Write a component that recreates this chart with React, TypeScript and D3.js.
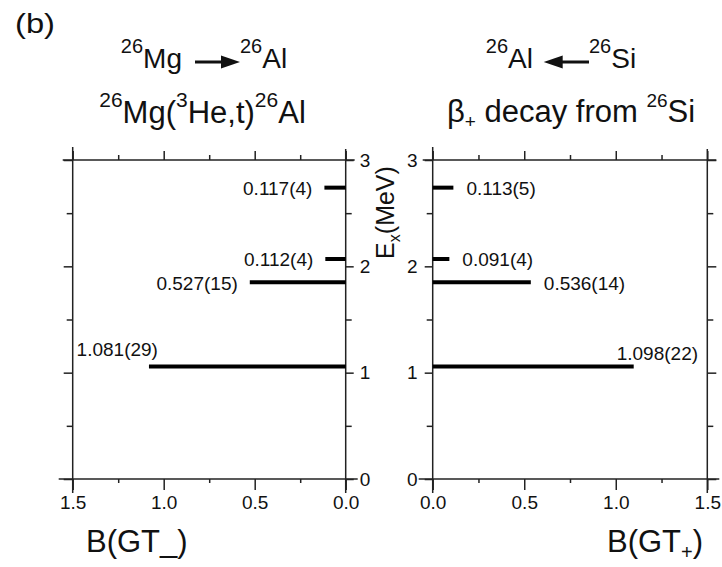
import React, { useEffect, useRef } from 'react';
import * as d3 from 'd3';

// excitation energies of the 1+ states in 26Al (MeV)
const levels = [1.058, 1.851, 2.069, 2.74];

// 26Mg(3He,t)26Al
const bgtMinus = [1.081, 0.527, 0.112, 0.117];
const bgtMinusLabels = ['1.081(29)', '0.527(15)', '0.112(4)', '0.117(4)'];

// beta+ decay of 26Si
const bgtPlus = [1.098, 0.536, 0.091, 0.113];
const bgtPlusLabels = ['1.098(22)', '0.536(14)', '0.091(4)', '0.113(5)'];

const bTicks = [0, 0.5, 1.0, 1.5];
const bMinor = [0.25, 0.75, 1.25];
const eTicks = [0, 1, 2, 3];
const eMinor = [0.5, 1.5, 2.5];

const FONT = '"Liberation Sans", Arial, Helvetica, sans-serif';
const INK = '#222';

type Part = [string, 'n' | 'sup' | 'sub'];

function rich(g: any, x: number, y: number, size: number, anchor: string, parts: Part[], small: number, up: number, down: number) {
  const t = g.append('text')
    .attr('x', x).attr('y', y)
    .attr('text-anchor', anchor)
    .attr('font-family', FONT)
    .attr('font-size', size)
    .attr('fill', '#111')
    .style('white-space', 'pre');
  let cur = 0;
  parts.forEach(([s, k]) => {
    const target = k === 'sup' ? -up : k === 'sub' ? down : 0;
    t.append('tspan')
      .attr('dy', target - cur)
      .attr('font-size', k === 'n' ? size : small)
      .text(s);
    cur = target;
  });
  return t;
}

function arrow(g: any, xFrom: number, xTo: number, y: number) {
  const dir = Math.sign(xTo - xFrom);
  const head = 19;
  g.append('line')
    .attr('x1', xFrom).attr('x2', xTo - dir * head * 0.6)
    .attr('y1', y).attr('y2', y)
    .attr('stroke', '#111').attr('stroke-width', 3);
  g.append('path')
    .attr('d', `M${xTo},${y}L${xTo - dir * head},${y - 6.5}L${xTo - dir * head},${y + 6.5}Z`)
    .attr('fill', '#111');
}

function styleAxis(a: any) {
  a.select('.domain').remove();
  a.attr('font-family', FONT).attr('font-size', 19);
  a.selectAll('line').attr('stroke', INK).attr('stroke-width', 1.5);
  a.selectAll('text').attr('fill', '#111');
}

export default function App() {
  const ref = useRef<SVGSVGElement>(null);

  useEffect(() => {
    const svg = d3.select(ref.current);
    svg.selectAll('*').remove();

    const y = d3.scaleLinear().domain([0, 3]).range([479, 160]);
    const xL = d3.scaleLinear().domain([1.5, 0]).range([72.7, 345.7]);
    const xR = d3.scaleLinear().domain([0, 1.5]).range([432.7, 707.3]);

    const panel = (x: any, values: number[], labels: string[], side: 'left' | 'right') => {
      const g = svg.append('g');
      const [x0, x1] = x.range();
      const yTop = y(3);
      const yBot = y(0);

      // frame lines, a bit longer than the plot box
      const frame = [
        [x0 - 10, yTop, x1 + 9, yTop],
        [x0 - 14, yBot, x1 + 12, yBot],
        [x0, yTop - 13, x0, yBot + 14],
        [x1, yTop - 11, x1, yBot + 14],
      ];
      g.selectAll('line.frame').data(frame).join('line')
        .attr('class', 'frame')
        .attr('x1', (d: number[]) => d[0]).attr('y1', (d: number[]) => d[1])
        .attr('x2', (d: number[]) => d[2]).attr('y2', (d: number[]) => d[3])
        .attr('stroke', INK).attr('stroke-width', 1.5);

      // x axes
      g.append('g').attr('transform', `translate(0,${yBot})`)
        .call(d3.axisBottom(x).tickValues(bTicks).tickSize(11).tickPadding(6).tickFormat(d3.format('.1f')))
        .call(styleAxis);
      g.append('g').attr('transform', `translate(0,${yBot})`)
        .call(d3.axisBottom(x).tickValues(bMinor).tickSize(4).tickFormat(() => ''))
        .call(styleAxis);
      g.append('g').attr('transform', `translate(0,${yTop})`)
        .call(d3.axisTop(x).tickValues(bTicks).tickSize(9).tickFormat(() => ''))
        .call(styleAxis);
      g.append('g').attr('transform', `translate(0,${yTop})`)
        .call(d3.axisTop(x).tickValues(bMinor).tickSize(5).tickFormat(() => ''))
        .call(styleAxis);

      // y axes: labels on the inner side
      const inner = side === 'left' ? x1 : x0;
      const outer = side === 'left' ? x0 : x1;
      const innerAxis = side === 'left' ? d3.axisRight : d3.axisLeft;
      const outerAxis = side === 'left' ? d3.axisLeft : d3.axisRight;
      g.append('g').attr('transform', `translate(${inner},0)`)
        .call(innerAxis(y).tickValues(eTicks).tickSize(8).tickPadding(side === 'left' ? 6 : 7).tickFormat(d3.format('d')))
        .call(styleAxis);
      g.append('g').attr('transform', `translate(${inner},0)`)
        .call(innerAxis(y).tickValues(eMinor).tickSize(6).tickFormat(() => ''))
        .call(styleAxis);
      g.append('g').attr('transform', `translate(${outer},0)`)
        .call(outerAxis(y).tickValues(eTicks).tickSize(9).tickFormat(() => ''))
        .call(styleAxis);
      g.append('g').attr('transform', `translate(${outer},0)`)
        .call(outerAxis(y).tickValues(eMinor).tickSize(6).tickFormat(() => ''))
        .call(styleAxis);

      // strength bars
      g.selectAll('line.bar').data(values).join('line')
        .attr('class', 'bar')
        .attr('x1', x(0)).attr('x2', (d: number) => x(d))
        .attr('y1', (_: number, i: number) => y(levels[i]))
        .attr('y2', (_: number, i: number) => y(levels[i]))
        .attr('stroke', '#000').attr('stroke-width', 4);

      const top = d3.max(values) as number;
      g.selectAll('text.val').data(values).join('text')
        .attr('class', 'val')
        .attr('font-family', FONT).attr('font-size', 19).attr('fill', '#111')
        .attr('text-anchor', side === 'left' ? 'end' : 'start')
        .attr('x', (d: number) => {
          if (d === top) return side === 'left' ? x(d) + 9 : x(d) - 17;
          return side === 'left' ? x(d) - 12 : x(d) + 13;
        })
        .attr('y', (d: number, i: number) => {
          const yy = y(levels[i]);
          if (d === top) return side === 'left' ? yy - 10 : yy - 6.5;
          return yy + 7.5;
        })
        .text((_: number, i: number) => labels[i]);
    };

    panel(xL, bgtMinus, bgtMinusLabels, 'left');
    panel(xR, bgtPlus, bgtPlusLabels, 'right');

    // panel tag
    svg.append('text')
      .attr('x', 15).attr('y', 33)
      .attr('font-family', FONT).attr('font-size', 27).attr('fill', '#111')
      .attr('textLength', 40).attr('lengthAdjust', 'spacingAndGlyphs')
      .text('(b)');

    // titles
    rich(svg, 182, 68, 28, 'end', [['26', 'sup'], ['Mg', 'n']], 20, 15, 0);
    arrow(svg, 195, 240, 62);
    rich(svg, 240, 68, 28, 'start', [['26', 'sup'], ['Al', 'n']], 20, 15, 0);
    rich(svg, 202.5, 123, 31, 'middle',
      [['26', 'sup'], ['Mg(', 'n'], ['3', 'sup'], ['He,t)', 'n'], ['26', 'sup'], ['Al', 'n']], 21, 16, 0);

    rich(svg, 533, 68, 28, 'end', [['26', 'sup'], ['Al', 'n']], 20, 15, 0);
    arrow(svg, 589, 543.7, 62);
    rich(svg, 589, 68, 28, 'start', [['26', 'sup'], ['Si', 'n']], 20, 15, 0);
    rich(svg, 571, 122, 31, 'middle',
      [['β', 'n'], ['+', 'sub'], [' decay from ', 'n'], ['26', 'sup'], ['Si', 'n']], 19, 15, 5.5);

    // axis titles
    rich(svg, 86, 552, 31, 'start', [['B(GT_)', 'n']], 20, 0, 0);
    rich(svg, 607, 552, 31, 'start', [['B(GT', 'n'], ['+', 'sub'], [')', 'n']], 20, 0, 7);

    const ex = svg.append('g').attr('transform', 'translate(394,212.5) rotate(-90)');
    rich(ex, 0, 0, 25, 'middle', [['E', 'n'], ['x', 'sub'], ['(MeV)', 'n']], 16, 0, 6);
  }, []);

  return (
    <svg
      ref={ref}
      width={722}
      height={567}
      style={{ position: 'absolute', left: 0, top: 0, background: '#fff' }}
    />
  );
}
